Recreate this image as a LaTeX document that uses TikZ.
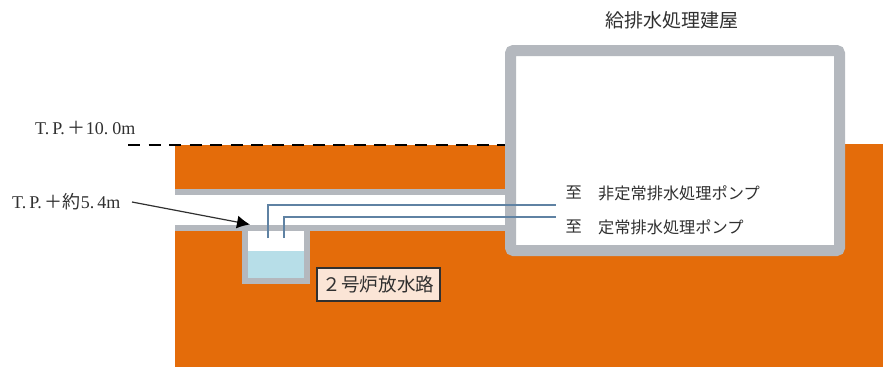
\documentclass[tikz,border=0pt]{standalone}
\usepackage{fontspec}
\setmainfont{Liberation Serif}
\newfontfamily\cjk{Noto Sans CJK JP}
\usetikzlibrary{arrows.meta}
\definecolor{soil}{HTML}{E46C0A}
\definecolor{wall}{HTML}{B4B8BE}
\definecolor{watr}{HTML}{B7DEE8}
\definecolor{pipe}{HTML}{5F82A3}
\definecolor{peach}{HTML}{FBE5D6}
\definecolor{ink}{HTML}{303030}
\tikzset{
  lbl/.style={inner sep=0pt,text=ink,font=\fontsize{16.2}{17}\selectfont\cjk},
  lvl/.style={inner sep=0pt,text=ink,font=\fontsize{18}{19}\selectfont},
  pipeline/.style={draw=pipe,line width=2pt},
}
\begin{document}
\begin{tikzpicture}[x=1pt,y=-1pt]
\useasboundingbox (0,0) rectangle (883,367);
% soil
\fill[soil] (175,145) rectangle (520,190);
\fill[soil] (175,231) rectangle (883,367);
\fill[soil] (830,144) rectangle (883,250);
% channel walls
\fill[wall] (175,189) rectangle (510,194.5);
\fill[wall] (175,224.5) rectangle (510,231);
% building
\draw[wall,line width=11pt,fill=white,rounded corners=3pt] (510.5,50.5) rectangle (839.5,250.5);
% pit
\fill[wall] (241.5,224.5) rectangle (309.5,284);
\fill[white] (247.5,231) rectangle (304,251);
\fill[watr] (247.5,251) rectangle (304,278);
% dashed level
\coordinate (d1) at (128,145);
\coordinate (d2) at (505,145);
\draw[black,line width=2.4pt,dash pattern=on 12pt off 8.5pt] (d1) -- (d2);
% pipes
\coordinate (p1s) at (267.5,238);
\coordinate (p1e) at (555.5,205);
\coordinate (p2s) at (284,238);
\coordinate (p2e) at (555.5,217);
\draw[pipeline] (p1s) |- (p1e);
\draw[pipeline] (p2s) |- (p2e);
% labels
\node[lbl,font=\fontsize{19}{20}\selectfont\cjk] (bldg) at (671.5,20) {給排水処理建屋};
\node[lbl,anchor=west] (to1) at (565.5,193) {至};
\node[lbl,anchor=west] (to2) at (565.5,227) {至};
\node[lbl,anchor=west] (pa) at (598,193) {非定常排水処理ポンプ};
\node[lbl,anchor=west] (pb) at (598,227) {定常排水処理ポンプ};
\node[lvl,anchor=west] (lv1) at (35,128) {T.\hspace{3pt}P.\hspace{3pt}{\cjk＋}10.\hspace{4pt}0m};
\node[lvl,anchor=west] (lv2) at (12,202) {T.\hspace{3pt}P.\hspace{3pt}{\cjk＋約}5.\hspace{3pt}4m};
\coordinate (arrs) at (132,202);
\coordinate (tip) at (250,224.5);
\draw[-{Latex[length=13pt,width=13pt,black]},line width=1.2pt,draw=ink] (arrs) -- (tip);
\node[draw=ink,fill=peach,line width=1.2pt,minimum width=123pt,minimum height=33pt,inner sep=0pt,text=ink,font=\fontsize{18.6}{19}\selectfont\cjk] (box) at (378.5,284.5) {２号炉放水路};
\end{tikzpicture}
\end{document}
